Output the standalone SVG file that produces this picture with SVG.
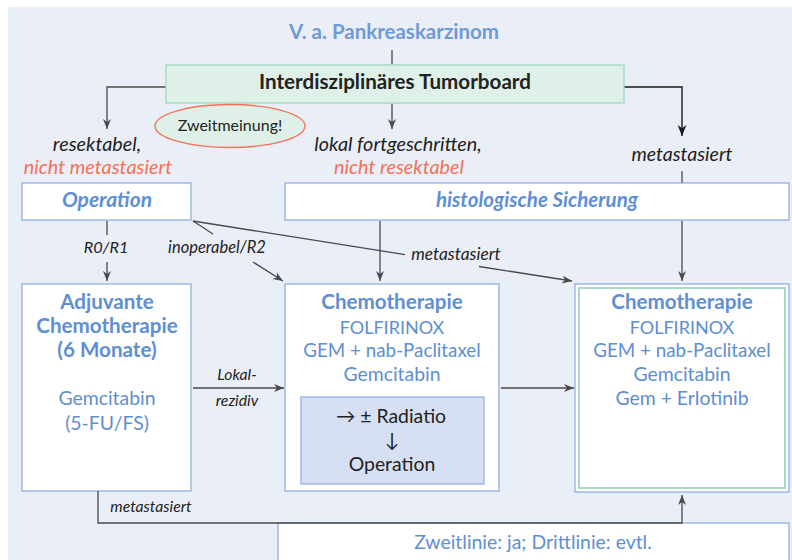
<svg xmlns="http://www.w3.org/2000/svg" width="792" height="560" viewBox="0 0 792 560">
<defs>
<style>
text{font-family:Lato,"Noto Sans","Liberation Sans",sans-serif;}
.blue{fill:#5E8ED3;}
.dark{fill:#222;}
.salmon{fill:#F0735A;}
.b{font-weight:bold;}
.i{font-style:italic;}
.box{fill:#fff;stroke:#8AAAE0;stroke-width:1.2;}
.con{fill:none;stroke:#4a4a4a;stroke-width:1.3;}
.conk{fill:none;stroke:#1a1a1a;stroke-width:1.4;}
.reg{font-size:19.4px;}
.bld{font-size:20.6px;}
.lab{font-size:19.8px;}
.caps{font-size:18px;}
.gem{font-size:18.8px;}
</style>
<marker id="ah" viewBox="0 0 10 10" refX="10" refY="5" markerWidth="10" markerHeight="10" markerUnits="userSpaceOnUse" orient="auto">
<path d="M0,1 L10,5 L0,9 L3,5 Z" fill="#4a4a4a"/>
</marker>
<marker id="ahk" viewBox="0 0 10 10" refX="10" refY="5" markerWidth="11" markerHeight="11" markerUnits="userSpaceOnUse" orient="auto">
<path d="M0,1 L10,5 L0,9 L3,5 Z" fill="#1a1a1a"/>
</marker>
</defs>
<rect x="8" y="7" width="784" height="553" fill="#EAEEF7"/>

<g id="connectors">
<line class="con" x1="392" y1="50" x2="392" y2="65"/>
<polyline class="con" points="166,87 107,87 107,129" marker-end="url(#ah)"/>
<line class="con" x1="392" y1="103" x2="392" y2="129" marker-end="url(#ah)"/>
<polyline class="conk" points="624,87 682,87 682,136" marker-end="url(#ahk)"/>
<line class="con" x1="682" y1="171" x2="682" y2="183"/>
<line class="con" x1="107" y1="221" x2="107" y2="235"/>
<line class="con" x1="107" y1="262" x2="107" y2="281" marker-end="url(#ah)"/>
<line class="con" x1="193" y1="221" x2="213" y2="234"/>
<line class="con" x1="253" y1="262" x2="283" y2="281" marker-end="url(#ah)"/>
<line class="con" x1="193" y1="221" x2="405" y2="254.7"/>
<line class="con" x1="479" y1="266.5" x2="572" y2="281" marker-end="url(#ah)"/>
<line class="con" x1="380" y1="221" x2="380" y2="281" marker-end="url(#ah)"/>
<line class="con" x1="682" y1="221" x2="682" y2="281" marker-end="url(#ah)"/>
<line class="con" x1="193" y1="388" x2="284" y2="388" marker-end="url(#ah)"/>
<line class="con" x1="501" y1="388" x2="574" y2="388" marker-end="url(#ah)"/>
<text class="i dark" x="106" y="253" text-anchor="middle" font-size="16.3">R0/R1</text>
<text class="i dark" x="217" y="253" text-anchor="middle" font-size="16.5">inoperabel/R2</text>
<text class="i dark" x="456" y="260" text-anchor="middle" font-size="17.3">metastasiert</text>
<text class="i dark" x="237" y="380" text-anchor="middle" font-size="15.8">Lokal-</text>
<text class="i dark" x="237" y="406" text-anchor="middle" font-size="15.8">rezidiv</text>
<text class="i dark" x="151" y="512" text-anchor="middle" font-size="15.7">metastasiert</text>
</g>

<g id="title">
<text class="b" x="394" y="39" text-anchor="middle" font-size="20.5" fill="#6E9AD6">V. a. Pankreaskarzinom</text>
</g>

<g id="tumorboard">
<rect x="166" y="65" width="458" height="38" fill="#DFF0E8" stroke="#A8DCC5" stroke-width="1.5"/>
<text class="b dark" x="395" y="89" text-anchor="middle" font-size="20.6">Interdisziplinäres Tumorboard</text>
</g>

<g id="zweitmeinung">
<ellipse cx="230" cy="126" rx="75" ry="21.5" fill="#DFF0E8" stroke="#F0735A" stroke-width="1.3"/>
<text class="dark" x="230" y="131" text-anchor="middle" font-size="16">Zweitmeinung!</text>
</g>

<g id="label-resektabel">
<text class="i lab dark" x="97" y="151" text-anchor="middle">resektabel,</text>
<text class="i lab salmon" x="98" y="174" text-anchor="middle">nicht metastasiert</text>
</g>

<g id="label-lokal">
<text class="i lab dark" x="398" y="151" text-anchor="middle">lokal fortgeschritten,</text>
<text class="i lab salmon" x="399" y="174" text-anchor="middle">nicht resektabel</text>
</g>

<g id="label-metastasiert">
<text class="i dark" x="682" y="161" text-anchor="middle" font-size="19.5">metastasiert</text>
</g>

<g id="operation">
<rect class="box" x="22" y="183" width="169" height="37"/>
<text class="b i blue" x="107" y="207" text-anchor="middle" font-size="21">Operation</text>
</g>

<g id="histologie">
<rect class="box" x="285" y="183" width="504" height="37"/>
<text class="b i blue" x="537" y="207" text-anchor="middle" font-size="20.5">histologische Sicherung</text>
</g>

<g id="adjuvant">
<rect class="box" x="22" y="284" width="169" height="207"/>
<text class="b bld blue" x="107" y="309" text-anchor="middle">Adjuvante</text>
<text class="b bld blue" x="107" y="333" text-anchor="middle">Chemotherapie</text>
<text class="b bld blue" x="107" y="357" text-anchor="middle">(6 Monate)</text>
<text class="reg blue" x="107" y="405" text-anchor="middle">Gemcitabin</text>
<text class="reg blue" x="107" y="430" text-anchor="middle">(5-FU/FS)</text>
</g>

<g id="chemo-lokal">
<rect class="box" x="285" y="284" width="214" height="207"/>
<text class="b bld blue" x="392" y="309" text-anchor="middle">Chemotherapie</text>
<text class="caps blue" x="392" y="334" text-anchor="middle">FOLFIRINOX</text>
<text class="gem blue" x="392" y="357" text-anchor="middle">GEM + nab-Paclitaxel</text>
<text class="reg blue" x="392" y="381" text-anchor="middle">Gemcitabin</text>
<rect x="301" y="397" width="183" height="87" fill="#D6E0F2" stroke="#8AAAE0" stroke-width="1.2"/>
<text class="reg dark" x="391" y="423" text-anchor="middle">→ ± Radiatio</text>
<text class="reg dark" x="392" y="447" text-anchor="middle">↓</text>
<text class="reg dark" x="392" y="471" text-anchor="middle">Operation</text>
</g>

<g id="chemo-meta">
<rect class="box" x="575" y="284" width="214" height="208"/>
<rect x="579" y="288" width="206" height="200" fill="none" stroke="#A8DCC5" stroke-width="2"/>
<text class="b bld blue" x="682" y="309" text-anchor="middle">Chemotherapie</text>
<text class="caps blue" x="682" y="334" text-anchor="middle">FOLFIRINOX</text>
<text class="gem blue" x="682" y="357" text-anchor="middle">GEM + nab-Paclitaxel</text>
<text class="reg blue" x="682" y="381" text-anchor="middle">Gemcitabin</text>
<text class="reg blue" x="682" y="405" text-anchor="middle">Gem + Erlotinib</text>
</g>

<g id="linien">
<rect class="box" x="278" y="523" width="511" height="45"/>
<text class="reg blue" x="533" y="549" text-anchor="middle">Zweitlinie: ja; Drittlinie: evtl.</text>
</g>

<g id="connectors-bottom">
<polyline class="con" points="98,491 98,523 682,523 682,495" marker-end="url(#ah)"/>
</g>
</svg>
